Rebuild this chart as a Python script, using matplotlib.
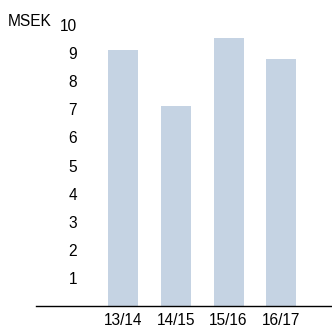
import matplotlib
matplotlib.use("Agg")
import matplotlib.pyplot as plt

# values
seasons = ["13/14", "14/15", "15/16", "16/17"]
msek = [9.1, 7.1, 9.55, 8.8]
yticks = [1, 2, 3, 4, 5, 6, 7, 8, 9, 10]

plt.rcParams['font.family'] = ['Liberation Sans', 'DejaVu Sans']
fs = 11.2

fig = plt.figure(figsize=(3.32, 3.29), dpi=100)
ax = fig.add_axes([36 / 332, 23 / 329, 296 / 332, 281 / 329])

x = range(len(seasons))
ax.bar(x, msek, width=0.57, color="#c5d3e3")
ax.set_xlim(-1.65, 3.96)
ax.set_ylim(0, 10)

ax.set_xticks(list(x))
ax.set_xticklabels(seasons, fontsize=fs)
ax.set_yticks(yticks)
ax.set_yticklabels([str(v) for v in yticks], fontsize=fs)
ax.tick_params(axis="both", length=0)
ax.tick_params(axis="y", pad=-29.5)
ax.tick_params(axis="x", pad=5)
for lbl in ax.get_yticklabels():
    lbl.set_clip_on(False)

for s in ["left", "right", "top"]:
    ax.spines[s].set_visible(False)
ax.spines["bottom"].set_linewidth(1.0)

fig.text(8 / 332, 1 - 21 / 329, "MSEK", fontsize=fs, va="center", ha="left")

fig.savefig("out.png", dpi=100)
